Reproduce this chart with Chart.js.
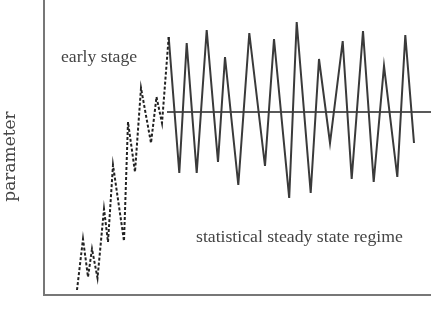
<!DOCTYPE html>
<html>
<head>
<meta charset="utf-8">
<script src="https://cdn.jsdelivr.net/npm/chart.js@4"></script>
<style>
  html, body { margin: 0; padding: 0; background: #fff; }
  #c { display: block; }
</style>
</head>
<body>
<canvas id="c" width="431" height="313" style="width:431px;height:313px"></canvas>
<script>
// early stage (dashed) — time, parameter
const earlyTime   = [33, 39, 44, 48, 53.5, 60, 64, 69, 80, 84, 91, 97, 107, 112.5, 118, 124.7];
const earlyValues = [5, 56, 18, 46, 17, 86, 53, 130, 54, 173, 123, 207, 152, 198, 172, 258];
// statistical steady state regime (solid)
const steadyTime   = [124.7, 135.3, 142.7, 152.7, 162.7, 174, 181, 194.3, 205.3, 221, 230, 245.2, 252.7, 266.7, 275, 286, 298.7, 307.7, 319, 329.7, 340, 353.3, 361.3, 370];
const steadyValues = [258, 122, 252, 122, 265, 133, 238, 110, 262, 129, 256, 97, 273, 102, 236, 152, 254, 116, 264, 113, 229, 118, 260, 152];
// mean level of the steady regime
const meanTime  = [123, 387];
const meanLevel = [183, 183];

const yTitle = "parameter";
const earlyLabel = "early stage";
const steadyLabel = "statistical steady state regime";

const toPts = (xs, ys) => xs.map((x, i) => ({ x: x, y: ys[i] }));

const textPlugin = {
  id: 'texts',
  afterDraw(chart) {
    const ctx = chart.ctx;
    ctx.save();
    ctx.fillStyle = '#444';
    ctx.textBaseline = 'alphabetic';
    ctx.textAlign = 'left';
    ctx.font = '17.7px "Liberation Serif", "Times New Roman", serif';
    ctx.fillText(earlyLabel, 61, 62);
    ctx.fillText(steadyLabel, 196, 241.5);
    ctx.translate(10.5, 156.5);
    ctx.rotate(-Math.PI / 2);
    ctx.textAlign = 'center';
    ctx.textBaseline = 'middle';
    ctx.font = '17px "DejaVu Serif", serif';
    ctx.fillText(yTitle, 0, 0);
    ctx.restore();
  }
};

new Chart(document.getElementById('c'), {
  type: 'line',
  data: {
    datasets: [
      {
        data: toPts(earlyTime, earlyValues),
        borderColor: '#222',
        borderWidth: 2,
        borderDash: [3, 2],
        pointRadius: 0,
        tension: 0,
        fill: false
      },
      {
        data: toPts(steadyTime, steadyValues),
        borderColor: '#3a3a3a',
        borderWidth: 2,
        pointRadius: 0,
        tension: 0,
        fill: false
      },
      {
        data: toPts(meanTime, meanLevel),
        borderColor: '#222',
        borderWidth: 1.5,
        pointRadius: 0,
        tension: 0,
        fill: false
      }
    ]
  },
  options: {
    responsive: false,
    devicePixelRatio: 1,
    animation: false,
    events: [],
    layout: { padding: 0 },
    plugins: { legend: { display: false }, tooltip: { enabled: false } },
    scales: {
      x: {
        type: 'linear',
        min: 0, max: 387,
        ticks: { display: false },
        grid: { display: false },
        border: { display: true, color: '#777', width: 2 },
        afterFit(scale) { scale.height = 18; }
      },
      y: {
        type: 'linear',
        min: 0, max: 295,
        ticks: { display: false },
        grid: { display: false },
        border: { display: true, color: '#777', width: 2 },
        afterFit(scale) { scale.width = 44; }
      }
    }
  },
  plugins: [textPlugin]
});
</script>
</body>
</html>
